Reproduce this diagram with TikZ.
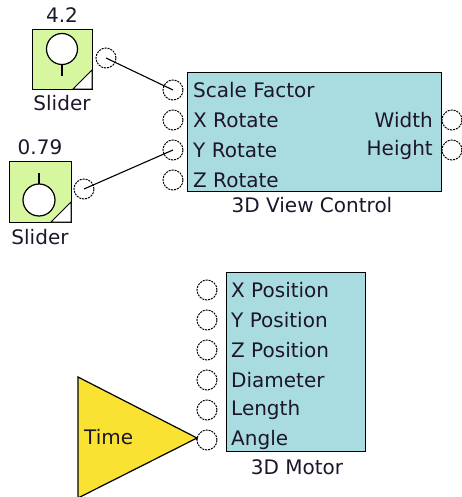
\documentclass[tikz,border=0pt]{standalone}
\usepackage{fontspec}
\setmainfont{DejaVu Sans}
\definecolor{boxcyan}{RGB}{168,220,224}
\definecolor{slgreen}{RGB}{214,246,160}
\definecolor{timeyel}{RGB}{250,226,50}
\definecolor{txt}{RGB}{30,22,40}
\begin{document}
\begin{tikzpicture}[x=1pt,y=-1pt,
  font=\fontsize{20}{24}\selectfont,
  port/.style={circle, draw=black, dash pattern=on 2pt off 1pt, line width=1pt, minimum size=20pt, inner sep=0pt},
  block/.style={draw=black, line width=1.2pt, fill=boxcyan, inner sep=0pt, anchor=north west},
  slbox/.style={draw=black, line width=1.2pt, fill=slgreen, inner sep=0pt, anchor=north west, minimum width=60pt, minimum height=60pt},
  lbl/.style={text=txt, inner sep=0pt},
  wire/.style={draw=black, line width=1.1pt}]
\useasboundingbox (0,0) rectangle (461,497);

% ---- Slider 1 ----
\node[slbox] (s1) at (32,29) {};
\fill[white, draw=black, line width=0.8pt] (92,70) -- (92,89) -- (73,89) -- cycle;
\draw[line width=1.2pt, fill=white] (62,49) circle (15.5);
\draw[line width=1.2pt] (62,64.5) -- (62,76);
\node[lbl] (s1val) at (62,15) {4.2};
\node[lbl] (s1lab) at (62,103) {Slider};
\node[port] (s1out) at (106,58) {};

% ---- Slider 2 ----
\node[slbox, minimum width=62pt, minimum height=61pt] (s2) at (9,161) {};
\fill[white, draw=black, line width=0.8pt] (71,202) -- (71,222) -- (51,222) -- cycle;
\draw[line width=1.2pt, fill=white] (39,200) circle (16);
\draw[line width=1.2pt] (39,173) -- (39,184);
\node[lbl] (s2val) at (40,147) {0.79};
\node[lbl] (s2lab) at (40,237) {Slider};
\node[port] (s2out) at (84,189) {};

% ---- 3D View Control ----
\node[block, minimum width=254pt, minimum height=119pt] (vc) at (187,72) {};
\node[port] (vcsf) at (173,90) {};
\node[port] (vcx) at (173,120) {};
\node[port] (vcy) at (173,150) {};
\node[port] (vcz) at (173,180) {};
\node[port] (vcw) at (452,120) {};
\node[port] (vch) at (452,150) {};
\node[lbl, anchor=west] (tsf) at (193,90) {Scale Factor};
\node[lbl, anchor=west] (tx) at (193,120) {X Rotate};
\node[lbl, anchor=west] (ty) at (193,150) {Y Rotate};
\node[lbl, anchor=west] (tz) at (193,180) {Z Rotate};
\node[lbl, anchor=east] (tw) at (433,120) {Width};
\node[lbl, anchor=east] (th) at (433,150) {Height};
\node[lbl] (vclab) at (312,205) {3D View Control};

% ---- 3D Motor ----
\node[block, minimum width=139pt, minimum height=179pt] (mo) at (226,272) {};
\node[port] (mx) at (207,290) {};
\node[port] (my) at (207,320) {};
\node[port] (mz) at (207,350) {};
\node[port] (md) at (207,380) {};
\node[port] (ml) at (207,410) {};
\node[port] (ma) at (207,440) {};
\node[lbl, anchor=west] (tmx) at (231,290) {X Position};
\node[lbl, anchor=west] (tmy) at (231,320) {Y Position};
\node[lbl, anchor=west] (tmz) at (231,350) {Z Position};
\node[lbl, anchor=west] (tmd) at (231,380) {Diameter};
\node[lbl, anchor=west] (tml) at (231,410) {Length};
\node[lbl, anchor=west] (tma) at (231,440) {Angle};
\node[lbl] (molab) at (297,467) {3D Motor};

% ---- Time ----
\coordinate (tip) at (197,438);
\draw[line width=1.2pt, fill=timeyel] (78,377) -- (tip) -- (78,498) -- cycle;
\node[lbl, anchor=west] (ttime) at (84,437) {Time};

% ---- wires ----
\draw[wire] (s1out.center) -- (vcsf.center);
\draw[wire] (s2out.center) -- (vcy.center);
\draw[wire] (tip) -- (ma.west);
\end{tikzpicture}
\end{document}
